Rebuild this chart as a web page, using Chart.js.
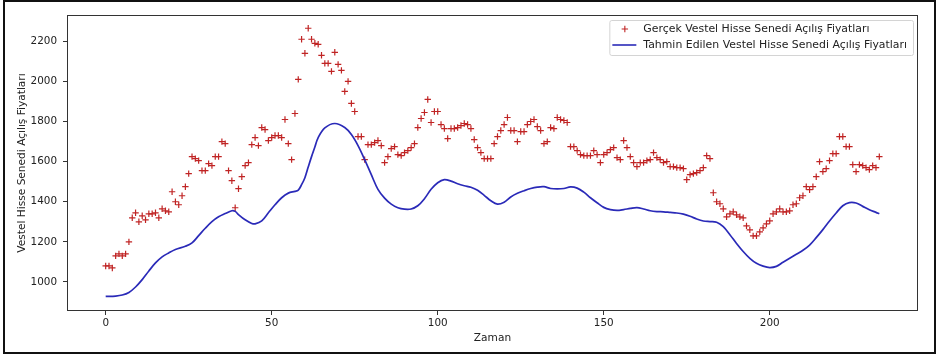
<!DOCTYPE html>
<html>
<head>
<meta charset="utf-8">
<title>Vestel Hisse Senedi</title>
<script src="https://cdn.jsdelivr.net/npm/chart.js@4.4.0/dist/chart.umd.min.js"></script>
<style>
  html, body { margin: 0; padding: 0; background: #fff; }
  #wrap { position: relative; width: 938px; height: 356px; }
  #frame { position: absolute; left: 3px; top: 0; width: 933px; height: 354px; border: 2px solid #111; box-sizing: border-box; pointer-events: none; }
  canvas { position: absolute; left: 0; top: 0; }
</style>
</head>
<body>
<div id="wrap">
  <canvas id="myChart" width="938" height="356"></canvas>
  <div id="frame"></div>
</div>
<script>
// gerçek açılış fiyatları, index 0..233
const realValues = [
  1080, 1080, 1070, 1130, 1140, 1130, 1140, 1200, 1320, 1345,
  1300, 1330, 1310, 1340, 1340, 1345, 1320, 1365, 1355, 1350,
  1450, 1400, 1385, 1430, 1475, 1540, 1625, 1615, 1605, 1555,
  1555, 1590, 1580, 1625, 1625, 1700, 1690, 1555, 1505, 1370,
  1465, 1525, 1580, 1595, 1685, 1720, 1680, 1770, 1760, 1705,
  1720, 1730, 1730, 1720, 1810, 1690, 1610, 1840, 2010, 2210,
  2140, 2265, 2210, 2190, 2185, 2130, 2090, 2090, 2050, 2145,
  2085, 2055, 1950, 2000, 1890, 1850, 1725, 1725, 1610, 1685,
  1685, 1695, 1705, 1680, 1595, 1625, 1665, 1675, 1635, 1630,
  1645, 1655, 1670, 1690, 1770, 1815, 1845, 1910, 1795, 1850,
  1850, 1785, 1765, 1715, 1765, 1765, 1770, 1780, 1790, 1785,
  1765, 1710, 1670, 1645, 1615, 1615, 1615, 1690, 1725, 1755,
  1785, 1820, 1755, 1755, 1700, 1750, 1750, 1785, 1800, 1810,
  1775, 1755, 1690, 1700, 1770, 1765, 1820, 1810, 1805, 1795,
  1675, 1675, 1655, 1635, 1630, 1630, 1630, 1655, 1635, 1595,
  1635, 1645, 1660, 1670, 1620, 1610, 1705, 1670, 1625, 1595,
  1575, 1595, 1595, 1605, 1610, 1645, 1620, 1610, 1595, 1600,
  1575, 1575, 1570, 1570, 1565, 1510, 1535, 1540, 1545, 1555,
  1570, 1630, 1615, 1445, 1400, 1390, 1365, 1325, 1340, 1350,
  1335, 1325, 1320, 1280, 1260, 1230, 1230, 1250, 1270, 1290,
  1305, 1340, 1350, 1365, 1350, 1350, 1355, 1385, 1390, 1420,
  1430, 1475, 1460, 1475, 1525, 1600, 1550, 1565, 1605, 1640,
  1640, 1725, 1725, 1675, 1675, 1585, 1550, 1585, 1580, 1570,
  1560, 1580, 1570, 1625
];

// tahmin eğrisi, resimden okunan noktalar
const predX = [
  0, 3, 5, 7, 9, 11, 13, 15, 17, 19, 21, 24, 26, 28, 30, 32, 34, 36, 38, 39,
  40, 42, 44, 45, 47, 49, 51, 53, 55, 57, 58, 59, 60, 61, 62, 63, 64, 66, 69, 72,
  74, 76, 78, 80, 82, 84, 86, 88, 90, 92, 94, 96, 98, 100, 102, 104, 106, 108, 110, 112,
  114, 116, 118, 120, 122, 124, 126, 128, 130, 132, 134, 136, 138, 140, 142, 144, 146, 148, 150, 152,
  154, 156, 158, 160, 162, 164, 166, 168, 170, 172, 174, 176, 178, 180, 182, 184, 186, 188, 190, 192,
  194, 196, 198, 200, 202, 204, 206, 208, 210, 212, 214, 216, 218, 220, 222, 224, 226, 228, 230, 232,
  233
];
const predY = [
  928, 930, 935, 948, 975, 1012, 1055, 1095, 1125, 1145, 1162, 1178, 1195, 1231, 1268, 1301, 1325, 1341, 1355, 1352,
  1336, 1310, 1292, 1290, 1305, 1345, 1385, 1420, 1443, 1452, 1458, 1485, 1520, 1573, 1625, 1673, 1720, 1768, 1790, 1770,
  1735, 1680, 1610, 1535, 1462, 1418, 1388, 1370, 1363, 1364, 1380, 1415, 1462, 1495, 1510, 1503, 1490, 1480, 1472, 1457,
  1432, 1405, 1388, 1398, 1424, 1442, 1455, 1466, 1473, 1475, 1466, 1464, 1466, 1474, 1468, 1448, 1420, 1395, 1372, 1361,
  1357, 1361, 1367, 1371, 1364, 1355, 1351, 1350, 1347, 1344, 1338, 1328, 1314, 1304, 1301, 1298, 1276, 1236, 1192, 1152,
  1118, 1093, 1079, 1072, 1078, 1098, 1118, 1138, 1158, 1184, 1221, 1261, 1304, 1344, 1380, 1396, 1394, 1377, 1360, 1347,
  1340
];

const xTicks = [0, 50, 100, 150, 200];
const yTicks = [1000, 1200, 1400, 1600, 1800, 2000, 2200];

const realLabel = 'Gerçek Vestel Hisse Senedi Açılış Fiyatları';
const predLabel = 'Tahmin Edilen Vestel Hisse Senedi Açılış Fiyatları';

const redColor = '#c02424';
const blueColor = '#2a2ab8';
const axisColor = '#333';
const textColor = '#222';

Chart.defaults.font.family = 'DejaVu Sans';

// matplotlib gibi çerçeve ve kutulu lejant
const framePlugin = {
  id: 'frameLegend',
  afterDraw(chart) {
    const { ctx, chartArea } = chart;
    ctx.save();
    ctx.strokeStyle = axisColor;
    ctx.lineWidth = 1;
    ctx.strokeRect(chartArea.left + 0.5, chartArea.top + 0.5,
      chartArea.right - chartArea.left - 1, chartArea.bottom - chartArea.top - 1);

    ctx.font = '10.9px "DejaVu Sans"';
    const textW = Math.max(ctx.measureText(realLabel).width, ctx.measureText(predLabel).width);
    const w = 34 + textW + 6;
    const h = 35;
    const x0 = chartArea.right - 5 - w;
    const y0 = chartArea.top + 5;
    ctx.beginPath();
    ctx.roundRect(x0 + 0.5, y0 + 0.5, w, h, 2);
    ctx.fillStyle = 'rgba(255,255,255,0.85)';
    ctx.fill();
    ctx.strokeStyle = '#d4d4d4';
    ctx.stroke();

    const r1 = y0 + 9, r2 = y0 + 25;
    // + işareti
    ctx.strokeStyle = redColor;
    ctx.lineWidth = 1.1;
    ctx.beginPath();
    ctx.moveTo(x0 + 15.5 - 3.2, r1);
    ctx.lineTo(x0 + 15.5 + 3.2, r1);
    ctx.moveTo(x0 + 15.5, r1 - 3.2);
    ctx.lineTo(x0 + 15.5, r1 + 3.2);
    ctx.stroke();
    // çizgi
    ctx.strokeStyle = blueColor;
    ctx.lineWidth = 1.6;
    ctx.beginPath();
    ctx.moveTo(x0 + 3, r2);
    ctx.lineTo(x0 + 27, r2);
    ctx.stroke();

    ctx.fillStyle = textColor;
    ctx.textBaseline = 'middle';
    ctx.textAlign = 'left';
    ctx.fillText(realLabel, x0 + 34, r1);
    ctx.fillText(predLabel, x0 + 34, r2);
    ctx.restore();
  }
};

const ctx = document.getElementById('myChart').getContext('2d');
new Chart(ctx, {
  type: 'scatter',
  data: {
    datasets: [
      {
        label: realLabel,
        data: realValues.map((v, i) => ({ x: i, y: v })),
        pointStyle: 'cross',
        pointRadius: 3.2,
        pointBorderWidth: 1.2,
        borderColor: redColor,
        backgroundColor: redColor,
        showLine: false,
        order: 2,
      },
      {
        label: predLabel,
        data: predX.map((x, i) => ({ x: x, y: predY[i] })),
        showLine: true,
        pointRadius: 0,
        borderColor: blueColor,
        borderWidth: 1.7,
        tension: 0.35,
        order: 1,
      },
    ],
  },
  options: {
    responsive: false,
    animation: false,
    devicePixelRatio: 1,
    events: [],
    layout: { padding: { left: 0, top: 15, right: 20, bottom: 0 } },
    plugins: {
      legend: { display: false },
      tooltip: { enabled: false },
    },
    scales: {
      x: {
        type: 'linear',
        position: 'bottom',
        min: -11.65,
        max: 244.65,
        afterBuildTicks: (s) => { s.ticks = xTicks.map(v => ({ value: v })); },
        afterFit: (s) => { s.height = 45; },
        grid: { display: true, drawOnChartArea: false, drawTicks: true, tickLength: 4, color: axisColor },
        border: { display: false },
        ticks: { color: textColor, font: { size: 10.4 }, padding: 2, maxRotation: 0, callback: (v) => String(v) },
        title: { display: true, text: 'Zaman', color: textColor, font: { size: 10.6 }, padding: { top: 4, bottom: 11 } },
      },
      y: {
        type: 'linear',
        min: 855.4,
        max: 2331,
        afterBuildTicks: (s) => { s.ticks = yTicks.map(v => ({ value: v })); },
        afterFit: (s) => { s.width = 67; },
        grid: { display: true, drawOnChartArea: false, drawTicks: true, tickLength: 4, color: axisColor },
        border: { display: false },
        ticks: { color: textColor, font: { size: 10.4 }, padding: 6, callback: (v) => String(v) },
        title: { display: true, text: 'Vestel Hisse Senedi Açılış Fiyatları', color: textColor, font: { size: 10.6 }, padding: { top: 16, bottom: 0 } },
      },
    },
  },
  plugins: [framePlugin],
});
</script>
</body>
</html>
